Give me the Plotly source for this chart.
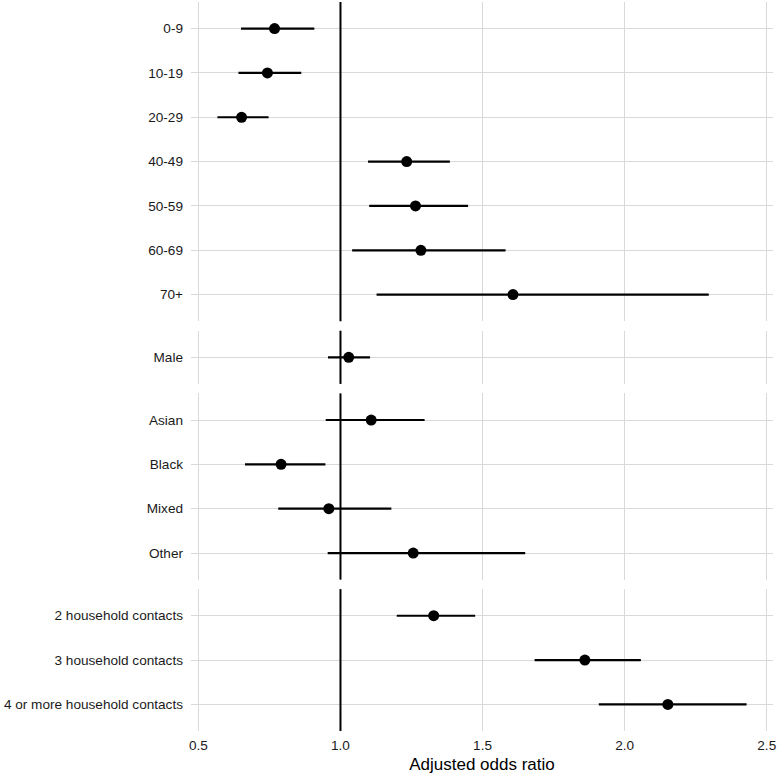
import plotly.graph_objects as go

# ---- data ----
age_labels = ["0-9", "10-19", "20-29", "40-49", "50-59", "60-69", "70+"]
age_or = [0.768, 0.743, 0.652, 1.233, 1.264, 1.283, 1.607]
age_lo = [0.650, 0.641, 0.567, 1.097, 1.101, 1.041, 1.127]
age_hi = [0.908, 0.862, 0.747, 1.385, 1.449, 1.581, 2.296]

sex_labels = ["Male"]
sex_or = [1.029]
sex_lo = [0.956]
sex_hi = [1.104]

eth_labels = ["Asian", "Black", "Mixed", "Other"]
eth_or = [1.108, 0.791, 0.959, 1.256]
eth_lo = [0.948, 0.664, 0.781, 0.955]
eth_hi = [1.296, 0.947, 1.179, 1.650]

hh_labels = ["2 household contacts", "3 household contacts", "4 or more household contacts"]
hh_or = [1.328, 1.860, 2.152]
hh_lo = [1.198, 1.683, 1.909]
hh_hi = [1.474, 2.057, 2.429]

x_ticks = [0.5, 1.0, 1.5, 2.0, 2.5]
x_ticktext = ["0.5", "1.0", "1.5", "2.0", "2.5"]
ref_value = 1.0

panels = [
    (age_labels, age_or, age_lo, age_hi),
    (sex_labels, sex_or, sex_lo, sex_hi),
    (eth_labels, eth_or, eth_lo, eth_hi),
    (hh_labels, hh_or, hh_lo, hh_hi),
]

# ---- layout geometry ----
W, H = 777, 774
mt, mb, ml, mr = 2, 43, 191, 4
plot_h = H - mt - mb
gap_px = 9.5
units = [len(p[0]) + 0.2 for p in panels]
unit_px = (plot_h - gap_px * (len(panels) - 1)) / sum(units)

FONT = "Liberation Sans, Arial, Helvetica, sans-serif"
GRID = "#d9d9d9"
xrange_ = [0.474, 2.522]

fig = go.Figure()
layout_axes = {}
top = 1.0
for i, (labels, orv, lo, hi) in enumerate(panels):
    h = units[i] * unit_px / plot_h
    dom = [max(0.0, top - h), top]
    top = top - h - gap_px / plot_h
    n = len(labels)
    ys = list(range(1, n + 1))
    sfx = "" if i == 0 else str(i + 1)
    xa, ya = "x" + sfx, "y" + sfx

    fig.add_trace(go.Scatter(
        x=orv, y=ys, mode="markers",
        marker=dict(color="black", size=11),
        error_x=dict(type="data", symmetric=False,
                     array=[b - a for a, b in zip(orv, hi)],
                     arrayminus=[a - b for a, b in zip(orv, lo)],
                     width=0, thickness=2.2, color="black"),
        xaxis=xa, yaxis=ya, showlegend=False, hoverinfo="skip",
    ))

    layout_axes["yaxis" + sfx] = dict(
        domain=dom, anchor=xa, range=[n + 0.6, 0.4], automargin=False,
        tickvals=ys, ticktext=labels, showgrid=True, gridcolor=GRID, gridwidth=1,
        zeroline=False, showline=False, ticks="", ticklabelstandoff=7,
        tickfont=dict(family=FONT, size=13.6, color="#1a1a1a"),
    )
    xdict = dict(
        domain=[0, 1], anchor=ya, range=xrange_, automargin=False,
        tickvals=x_ticks, ticktext=x_ticktext, showgrid=True, gridcolor=GRID, gridwidth=1,
        zeroline=False, showline=False,
        ticks="outside", ticklen=2, tickcolor="rgba(0,0,0,0)",
        ticklabeloverflow="allow",
        showticklabels=(i == len(panels) - 1),
        tickfont=dict(family=FONT, size=13.6, color="#1a1a1a"),
    )
    if i > 0:
        xdict["matches"] = "x"
    if i == len(panels) - 1:
        xdict["title"] = dict(text="Adjusted odds ratio", standoff=6,
                              font=dict(family=FONT, size=17, color="black"))
    layout_axes["xaxis" + sfx] = xdict

    fig.add_shape(type="line", xref=xa, yref=ya + " domain",
                  x0=ref_value, x1=ref_value, y0=0, y1=1,
                  line=dict(color="black", width=2), layer="above")

fig.update_layout(
    width=W, height=H,
    margin=dict(l=ml, r=mr, t=mt, b=mb),
    plot_bgcolor="white", paper_bgcolor="white",
    font=dict(family=FONT, color="black"),
    **layout_axes,
)

fig.write_html(
    "out.html",
    config={"displayModeBar": False},
    post_script="document.body.style.margin='0';document.body.style.overflow='hidden';",
)
